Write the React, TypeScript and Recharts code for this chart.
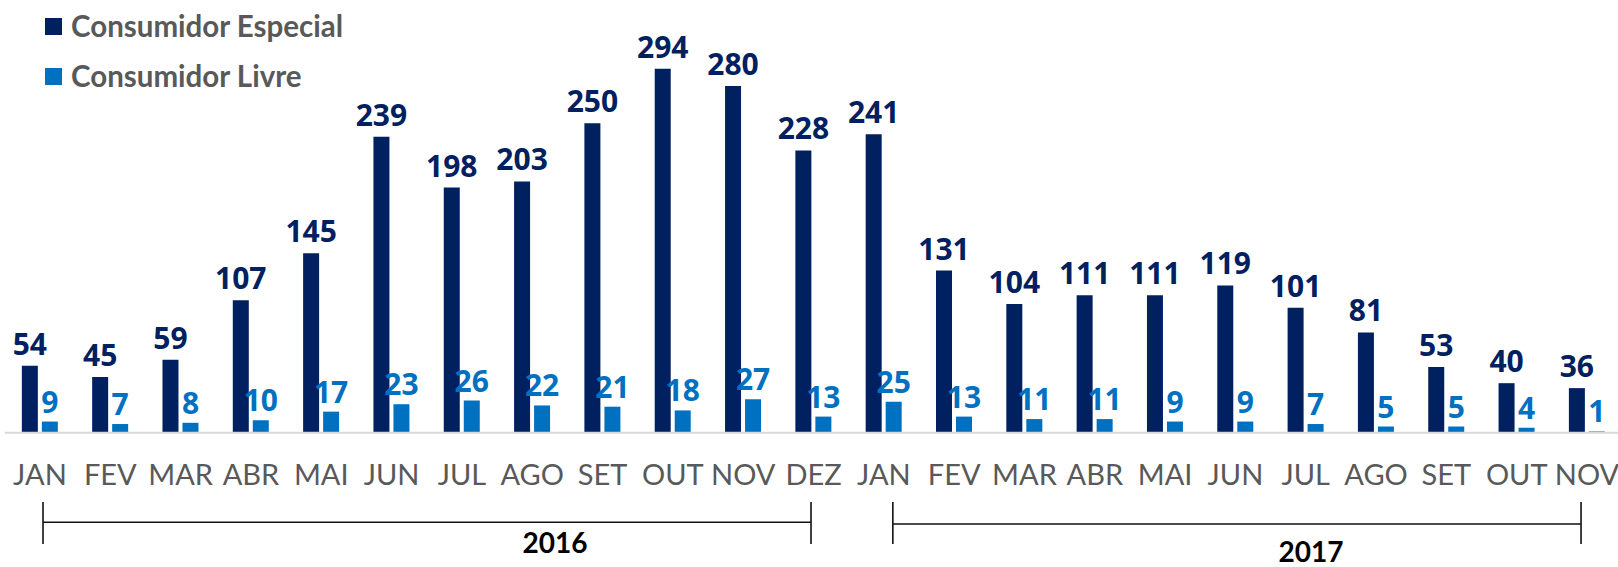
import { Bar, BarChart, LabelList, XAxis, YAxis } from 'recharts'

const categorias = [
  'JAN/16', 'FEV/16', 'MAR/16', 'ABR/16', 'MAI/16', 'JUN/16', 'JUL/16', 'AGO/16', 'SET/16', 'OUT/16', 'NOV/16', 'DEZ/16',
  'JAN/17', 'FEV/17', 'MAR/17', 'ABR/17', 'MAI/17', 'JUN/17', 'JUL/17', 'AGO/17', 'SET/17', 'OUT/17', 'NOV/17',
]
const especial = [54, 45, 59, 107, 145, 239, 198, 203, 250, 294, 280, 228, 241, 131, 104, 111, 111, 119, 101, 81, 53, 40, 36]
const livre = [9, 7, 8, 10, 17, 23, 26, 22, 21, 18, 27, 13, 25, 13, 11, 11, 9, 9, 7, 5, 5, 4, 1]

const series = [
  { key: 'especial', nome: 'Consumidor Especial', cor: '#002060' },
  { key: 'livre', nome: 'Consumidor Livre', cor: '#0070C0' },
]

// periodos marcados embaixo do eixo
const periodos = [
  { ano: '2016', de: 'JAN/16', ate: 'DEZ/16' },
  { ano: '2017', de: 'JAN/17', ate: 'NOV/17' },
]

const dados = categorias.map((c, i) => ({ cat: c, especial: especial[i], livre: livre[i] }))

// layout
const W = 1640
const H = 567
const plotLeft = 4.84
const band = 70.32
const plotTop = 61.3
const baseY = 432.7
const xAxisH = 60
const fonte = 'Lato, "Open Sans", sans-serif'
const fonteNum = '"Open Sans", Lato, sans-serif'

const centro = (cat: string) => plotLeft + (categorias.indexOf(cat) + 0.5) * band

const Tick = (props: any) => {
  const { x, y, payload } = props
  return (
    <text x={x} y={y + 52} textAnchor="middle" fill="#595959" fontSize={29} fontFamily={fonte}>
      {String(payload.value).split('/')[0]}
    </text>
  )
}

export default function App() {
  const margem = {
    top: plotTop,
    left: plotLeft,
    right: W - plotLeft - categorias.length * band,
    bottom: H - baseY - xAxisH,
  }

  return (
    <div style={{ position: 'absolute', left: 0, top: 0, width: 1618, height: H, overflow: 'hidden', background: '#fff' }}>
      <BarChart width={W} height={H} data={dados} margin={margem} barGap={4} barSize={16}>
        <XAxis
          dataKey="cat"
          height={xAxisH}
          tickLine={false}
          tickSize={0}
          tickMargin={0}
          interval={0}
          axisLine={{ stroke: '#D9D9D9', strokeWidth: 2 }}
          tick={<Tick />}
        />
        <YAxis hide domain={[0, 300]} />
        {series.map((s) => (
          <Bar key={s.key} dataKey={s.key} fill={s.cor} isAnimationActive={false}>
            <LabelList
              dataKey={s.key}
              position="top"
              offset={s.key === 'especial' ? 11 : 9}
              fill={s.cor}
              fontSize={30}
              fontWeight="bold"
              fontFamily={fonteNum}
            />
          </Bar>
        ))}
      </BarChart>

      {/* legenda */}
      {series.map((s, i) => (
        <div
          key={s.key}
          style={{ position: 'absolute', left: 45, top: 12 + i * 50, display: 'flex', alignItems: 'center', height: 28 }}
        >
          <div style={{ width: 17, height: 17, background: s.cor, marginRight: 9 }} />
          <span style={{ fontFamily: fonte, fontWeight: 'bold', fontSize: 29.5, color: '#595959', lineHeight: '28px' }}>
            {s.nome}
          </span>
        </div>
      ))}

      {/* chaves de ano */}
      <svg width={1618} height={H} style={{ position: 'absolute', left: 0, top: 0, pointerEvents: 'none' }}>
        {periodos.map((p, i) => {
          const x1 = centro(p.de) + (i === 0 ? 3 : 9)
          const x2 = centro(p.ate) - (i === 0 ? 2.5 : 6)
          const ym = i === 0 ? 522.3 : 524
          return (
            <g key={p.ano} stroke="#111" strokeWidth={1.6}>
              <line x1={x1} y1={502} x2={x1} y2={544} />
              <line x1={x2} y1={502} x2={x2} y2={544} />
              <line x1={x1} y1={ym} x2={x2} y2={ym} />
              <text
                x={i === 0 ? 555 : 1311}
                y={i === 0 ? 553 : 562}
                textAnchor="middle"
                stroke="none"
                fill="#000"
                fontSize={28}
                fontWeight="bold"
                fontFamily={fonte}
              >
                {p.ano}
              </text>
            </g>
          )
        })}
      </svg>
    </div>
  )
}
